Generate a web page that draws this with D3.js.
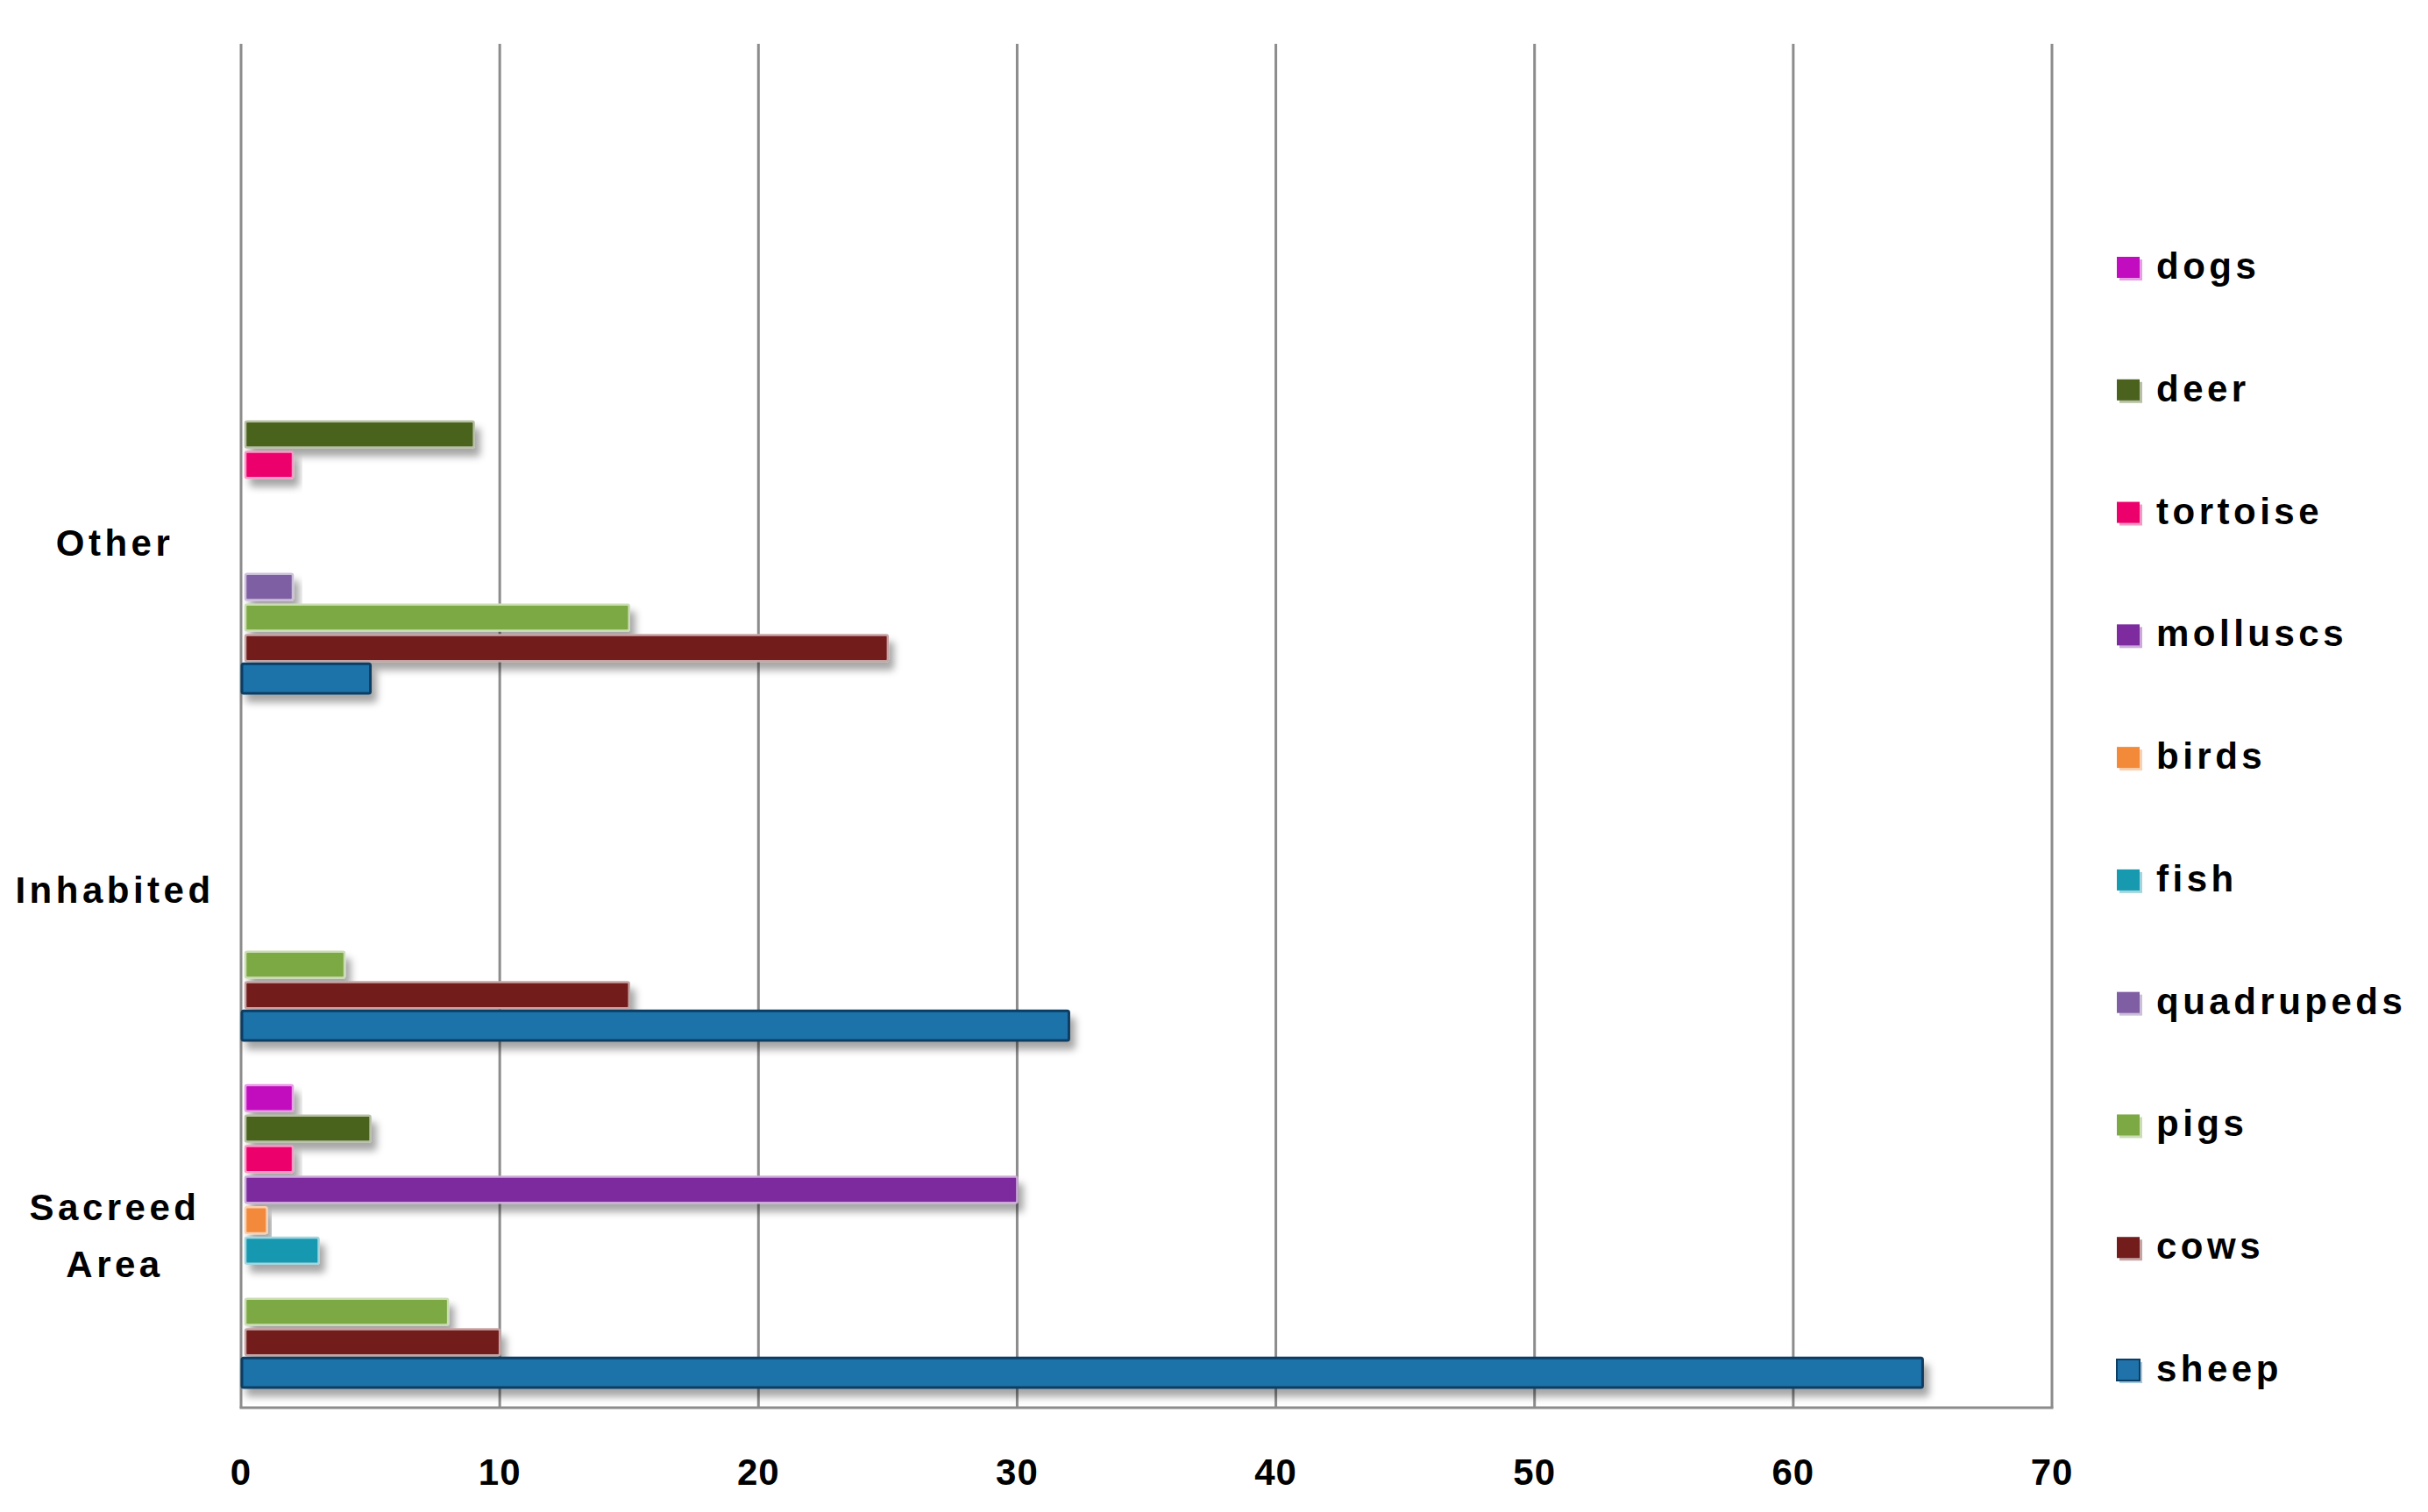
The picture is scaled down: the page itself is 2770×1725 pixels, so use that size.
<!DOCTYPE html>
<html>
<head>
<meta charset="utf-8">
<script src="https://cdn.jsdelivr.net/npm/d3@7"></script>
<style>
  body { margin: 0; background: #fff; }
  text { font-family: "Liberation Sans", Arial, sans-serif; font-weight: bold; fill: #000; }
</style>
</head>
<body>
<div id="chart"></div>
<script>
// categories bottom to top, series listed top to bottom (as in the legend)
var categories = ["Sacreed Area", "Inhabited", "Other"];
var series = ["dogs", "deer", "tortoise", "molluscs", "birds", "fish", "quadrupeds", "pigs", "cows", "sheep"];
var colors = ["#c20cbf", "#4a621e", "#ec006c", "#7d2b9f", "#f38a3a", "#1799b0", "#7f5ea3", "#7da944", "#721c1c", "#1f73aa"];

// values per category, same order as series
var sacreedValues   = [2, 5, 2, 30, 1, 3, 0, 8, 10, 65];
var inhabitedValues = [0, 0, 0, 0, 0, 0, 0, 4, 15, 32];
var otherValues     = [0, 9, 2, 0, 0, 0, 2, 15, 25, 5];
var xTicks = [0, 10, 20, 30, 40, 50, 60, 70];

var values = [sacreedValues, inhabitedValues, otherValues];

var width = 2770, height = 1725;
var plotTop = 50, plotBottom = 1606;

var svg = d3.select("#chart").append("svg")
    .attr("width", width)
    .attr("height", height);

var defs = svg.append("defs");
defs.append("filter").attr("id", "shadow")
    .attr("x", "-10%").attr("y", "-50%").attr("width", "130%").attr("height", "250%")
  .append("feDropShadow")
    .attr("dx", 6).attr("dy", 9).attr("stdDeviation", 4)
    .attr("flood-color", "#000").attr("flood-opacity", 0.35);

var x = d3.scaleLinear().domain([0, 70]).range([275, 2341]);

// the group bands sit at the bottom, the top of the plot stays empty
var y0 = d3.scaleBand().domain(categories).range([1608, 420]);
var y1 = d3.scaleBand().domain(series).range([24, 370]).paddingInner(0.06);

var color = d3.scaleOrdinal().domain(series).range(colors);
function tint(c) { return d3.interpolateRgb(c, "#ffffff")(0.6); }

// gridlines
svg.append("g").selectAll("line")
  .data(xTicks)
  .enter().append("line")
    .attr("x1", function(d) { return x(d); })
    .attr("x2", function(d) { return x(d); })
    .attr("y1", plotTop)
    .attr("y2", plotBottom)
    .attr("stroke", "#8c8c8c")
    .attr("stroke-width", 3);

svg.append("line")
    .attr("x1", x(0) - 1.5).attr("x2", x(70) + 1.5)
    .attr("y1", plotBottom).attr("y2", plotBottom)
    .attr("stroke", "#8c8c8c")
    .attr("stroke-width", 3);

// bars
var groups = svg.append("g").selectAll("g")
  .data(categories)
  .enter().append("g")
    .attr("transform", function(d) { return "translate(0," + y0(d) + ")"; });

groups.selectAll("rect")
  .data(function(d, i) {
    return series.map(function(s, j) { return {key: s, value: values[i][j]}; })
      .filter(function(e) { return e.value > 0; });
  })
  .enter().append("rect")
    .attr("x", function(d) { return d.key == "sheep" ? x(0) + 1 : x(0) + 5; })
    .attr("y", function(d) { return y1(d.key) + (d.key == "sheep" ? 0 : 2); })
    .attr("width", function(d) { return x(d.value) - x(0) - (d.key == "sheep" ? 1 : 5); })
    .attr("height", function(d) { return d.key == "sheep" ? y1.bandwidth() + 1 : y1.bandwidth() - 3; })
    .attr("rx", 2)
    .attr("fill", function(d) { return color(d.key); })
    .attr("stroke", function(d) { return d.key == "sheep" ? "#0c3e64" : tint(color(d.key)); })
    .attr("stroke-width", function(d) { return d.key == "sheep" ? 3 : 2.5; })
    .attr("filter", "url(#shadow)");

// x tick labels
svg.append("g").selectAll("text")
  .data(xTicks)
  .enter().append("text")
    .attr("x", function(d) { return x(d); })
    .attr("y", 1694)
    .attr("text-anchor", "middle")
    .style("font-size", "42px")
    .style("letter-spacing", "1px")
    .text(function(d) { return d; });

// category labels
var catLabels = svg.append("g").selectAll("text")
  .data(categories)
  .enter().append("text")
    .attr("x", 131)
    .attr("y", function(d) { return y0(d) + y0.bandwidth() / 2 + 16; })
    .attr("text-anchor", "middle")
    .style("font-size", "42px")
    .style("letter-spacing", "4.5px");

catLabels.each(function(d) {
  var words = d.split(" ");
  var t = d3.select(this);
  if (words.length > 1) {
    t.attr("y", y0(d) + y0.bandwidth() / 2 - 18.5);
    words.forEach(function(w, i) {
      t.append("tspan").attr("x", 131).attr("dy", i == 0 ? 0 : 65).text(w);
    });
  } else {
    t.text(d);
  }
});

// legend
var ly = d3.scalePoint().domain(series).range([318, 1576]);
var legend = svg.append("g").selectAll("g")
  .data(series)
  .enter().append("g")
    .attr("transform", function(d) { return "translate(2415," + ly(d) + ")"; });

legend.append("rect")
    .attr("x", 3).attr("y", -22)
    .attr("width", 26).attr("height", 24)
    .attr("fill", function(d) { return tint(color(d)); });

legend.append("rect")
    .attr("x", 0).attr("y", -25)
    .attr("width", 26).attr("height", 24)
    .attr("fill", function(d) { return color(d); })
    .attr("stroke", function(d) { return d == "sheep" ? "#0c3e64" : "none"; })
    .attr("stroke-width", 2);

legend.append("text")
    .attr("x", 45)
    .attr("y", 0)
    .style("font-size", "42px")
    .style("letter-spacing", "4.5px")
    .text(function(d) { return d; });
</script>
</body>
</html>
